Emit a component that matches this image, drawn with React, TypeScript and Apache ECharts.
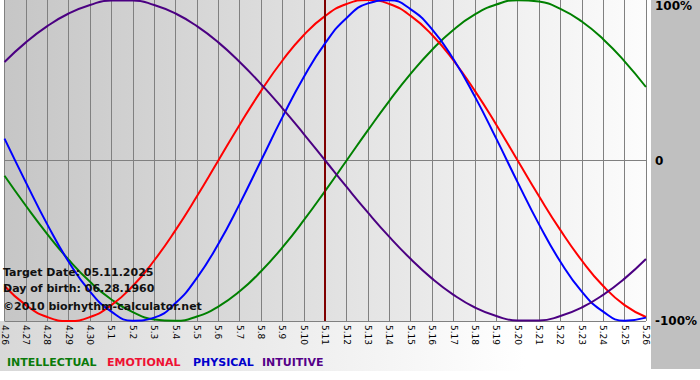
import React, { useEffect, useRef } from "react";
import * as echarts from "echarts";

const days = ["4.26","4.27","4.28","4.29","4.30","5.1","5.2","5.3","5.4","5.5","5.6","5.7","5.8","5.9","5.10","5.11","5.12","5.13","5.14","5.15","5.16","5.17","5.18","5.19","5.20","5.21","5.22","5.23","5.24","5.25","5.26"];

const intellectual = [-9.5,-28.2,-45.8,-61.8,-75.6,-86.6,-94.5,-99.0,-99.9,-97.2,-91.0,-81.5,-69.0,-54.1,-37.2,-18.9,0,18.9,37.2,54.1,69.0,81.5,91.0,97.2,99.9,99.0,94.5,86.6,75.6,61.8,45.8];
const emotional = [-78.2,-90.1,-97.5,-100,-97.5,-90.1,-78.2,-62.3,-43.4,-22.3,0,22.3,43.4,62.3,78.2,90.1,97.5,100,97.5,90.1,78.2,62.3,43.4,22.3,0,-22.3,-43.4,-62.3,-78.2,-90.1,-97.5];
const physical = [13.6,-13.6,-39.8,-63.1,-81.7,-94.2,-99.8,-97.9,-88.8,-73.1,-52.0,-27.0,0,27.0,52.0,73.1,88.8,97.9,99.8,94.2,81.7,63.1,39.8,13.6,-13.6,-39.8,-63.1,-81.7,-94.2,-99.8,-97.9];
const intuitive = [61.4,73.6,83.7,91.6,96.9,99.7,99.7,96.9,91.6,83.7,73.6,61.4,47.6,32.5,16.5,0,-16.5,-32.5,-47.6,-61.4,-73.6,-83.7,-91.6,-96.9,-99.7,-99.7,-96.9,-91.6,-83.7,-73.6,-61.4];

const targetDay = "5.11";
const infoLines = ["Target Date: 05.11.2025", "Day of birth: 06.28.1960", "\u00a92010 biorhythm-calculator.net"];
const legendNames = ["INTELLECTUAL", "EMOTIONAL", "PHYSICAL", "INTUITIVE"];

const COLORS = ["#008000", "#ff0000", "#0000ff", "#4b0082"];
const LEGEND_COLORS = ["#0a7a0a", "#ee1133", "#0000cc", "#550088"];
const FONT = "DejaVu Sans";

export default function App() {
  const ref = useRef<HTMLDivElement>(null);
  useEffect(() => {
    const chart = echarts.init(ref.current!, null, { renderer: "svg" });
    const seriesData = [intellectual, emotional, physical, intuitive];
    const legendX = [7, 107, 193, 262];
    const infoY = [272, 288, 306];
    chart.setOption({
      animation: false,
      backgroundColor: "#ffffff",
      grid: {
        left: 0,
        right: 50,
        top: 0,
        bottom: 59,
        show: true,
        borderWidth: 0,
        backgroundColor: new echarts.graphic.LinearGradient(0, 0, 1, 0, [
          { offset: 0, color: "#c6c6c6" },
          { offset: 1, color: "#fcfcfc" },
        ]),
      },
      xAxis: {
        type: "category",
        data: days,
        boundaryGap: false,
        axisLine: { show: true, lineStyle: { color: "#808080", width: 1 } },
        axisTick: { show: true, length: 4, lineStyle: { color: "#808080" } },
        axisLabel: {
          interval: 0,
          rotate: -90,
          margin: 4,
          fontSize: 9,
          fontFamily: FONT,
          color: "#000",
        },
        splitLine: { show: true, lineStyle: { color: "#808080", width: 1 } },
      },
      yAxis: {
        type: "value",
        position: "right",
        min: -100,
        max: 100,
        interval: 100,
        axisLine: { show: false },
        axisTick: { show: false },
        axisLabel: {
          margin: 9,
          fontSize: 12,
          fontWeight: "bold",
          fontFamily: FONT,
          color: "#000",
          verticalAlignMaxLabel: "top",
          formatter: (v: number) => (v === 0 ? "0" : v + "%"),
        },
        splitLine: {
          show: true,
          lineStyle: { color: ["#808080", "#808080", "rgba(0,0,0,0)"], width: 1 },
        },
      },
      series: seriesData.map((d, i) => ({
        type: "line",
        name: legendNames[i],
        data: d,
        smooth: true,
        showSymbol: false,
        lineStyle: { color: COLORS[i], width: 2 },
        itemStyle: { color: COLORS[i] },
        z: 3 + i,
        markLine:
          i === 0
            ? {
                silent: true,
                symbol: "none",
                label: { show: false },
                lineStyle: { color: "#800000", width: 2, type: "solid" },
                data: [{ xAxis: targetDay }],
              }
            : undefined,
      })),
      graphic: [
        {
          type: "rect",
          z: -10,
          shape: { x: 651, y: 0, width: 49, height: 369 },
          style: { fill: "#c0c0c0" },
        },
        {
          type: "rect",
          z: -11,
          shape: { x: 0, y: 321, width: 700, height: 50 },
          style: {
            fill: new echarts.graphic.LinearGradient(0, 0, 1, 0, [
              { offset: 0, color: "#d8d8d8" },
              { offset: 0.75, color: "#ffffff" },
              { offset: 1, color: "#ffffff" },
            ]),
          },
        },
        ...infoLines.map((t, i) => ({
          type: "text",
          z: 100,
          x: 3,
          y: infoY[i],
          style: {
            text: t,
            fill: "#111",
            font: `bold 11px "${FONT}"`,
            textVerticalAlign: "middle",
            verticalAlign: "middle",
          },
        })),
        ...legendNames.map((t, i) => ({
          type: "text",
          z: 100,
          x: legendX[i],
          y: 362,
          style: {
            text: t,
            fill: LEGEND_COLORS[i],
            font: `bold 11px "${FONT}"`,
            verticalAlign: "middle",
          },
        })),
      ],
    });
    return () => chart.dispose();
  }, []);
  return (
    <div
      ref={ref}
      style={{ position: "fixed", left: 0, top: 0, width: 700, height: 380 }}
    />
  );
}
